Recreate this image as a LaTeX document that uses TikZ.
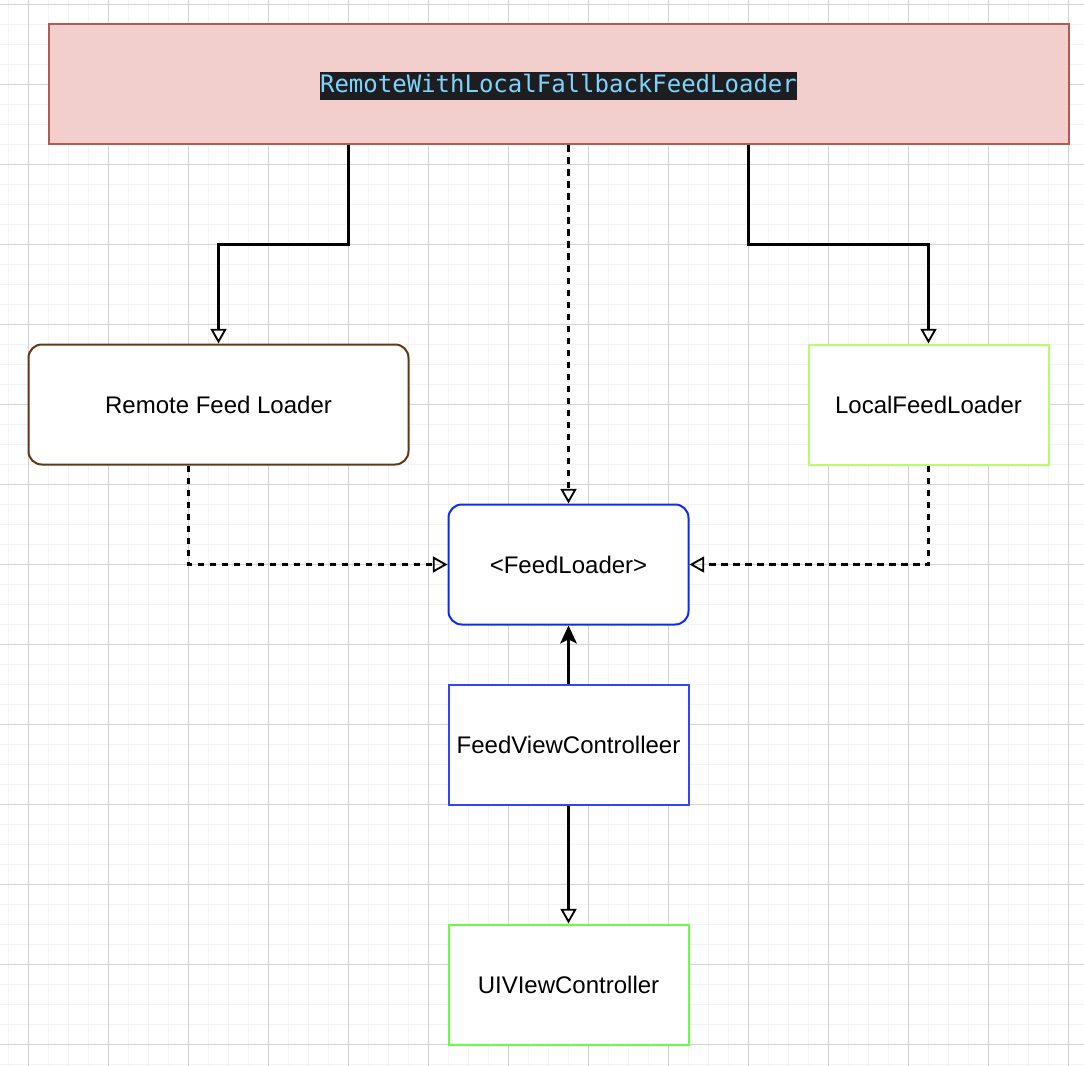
\documentclass[tikz,border=0pt]{standalone}
\usepackage{fontspec}
\setmainfont{Liberation Sans}
\newfontfamily\codefont{DejaVu Sans Mono}
\usetikzlibrary{arrows.meta}
\definecolor{gridminor}{HTML}{F3F3F3}
\definecolor{gridmajor}{HTML}{D2D2D2}
\definecolor{topfill}{HTML}{F2CFCC}
\definecolor{topline}{HTML}{B05A55}
\definecolor{remoteline}{HTML}{603813}
\definecolor{localline}{HTML}{B3FF66}
\definecolor{flline}{HTML}{0D2BF0}
\definecolor{fvcline}{HTML}{3344FF}
\definecolor{uiline}{HTML}{66FF44}
\definecolor{codebg}{HTML}{1E1E22}
\definecolor{codefg}{HTML}{7FD4FA}
\tikzset{
  box/.style={draw, line width=1.5pt, fill=white, minimum width=240*0.75pt, minimum height=120*0.75pt, inner sep=0pt, font=\fontsize{18}{21}\selectfont, text=black},
  rbox/.style={box, rounded corners=10pt},
  conn/.style={line width=1.6pt, draw=black},
  dconn/.style={conn, dash pattern=on 4.8pt off 4.2pt},
  opentip/.style={-{Triangle[open, length=11pt, width=12pt, line width=1.4pt]}},
  filltip/.style={-{Stealth[length=13.5pt, width=12.5pt, inset=3pt]}},
}
\begin{document}
\begin{tikzpicture}[x=0.75pt, y=-0.75pt]
\useasboundingbox (0,0) rectangle (1084,1066);
\fill[white] (0,0) rectangle (1084,1066);
% grid
\foreach \i in {0,...,53} {\draw[gridminor, line width=0.75pt] (8.5+20*\i,0) -- (8.5+20*\i,1066);}
\foreach \j in {0,...,53} {\draw[gridminor, line width=0.75pt] (0,4.5+20*\j) -- (1084,4.5+20*\j);}
\foreach \i in {0,...,13} {\draw[gridmajor, line width=0.75pt] (28.5+80*\i,0) -- (28.5+80*\i,1066);}
\foreach \j in {0,...,13} {\draw[gridmajor, line width=0.75pt] (0,4.5+80*\j) -- (1084,4.5+80*\j);}
% nodes
\node[box, draw=topline, fill=topfill, minimum width=1020*0.75pt] (top) at (558.5,84.5)
  {\raisebox{-1.1pt}[15.75pt][5.25pt]{\setlength\fboxsep{0pt}\colorbox{codebg}{\rule[-5.25pt]{0pt}{21pt}\codefont\color{codefg}RemoteWithLocalFallbackFeedLoader}}};
\node[rbox, draw=remoteline, minimum width=380*0.75pt] (remote) at (218.5,404.5) {Remote Feed Loader};
\node[box, draw=localline] (local) at (928.5,404.5) {LocalFeedLoader};
\node[rbox, draw=flline] (fl) at (568.5,564.5) {<FeedLoader>};
\node[box, draw=fvcline] (fvc) at (568.5,744.5) {FeedViewControlleer};
\node[box, draw=uiline] (ui) at (568.5,984.5) {UIVIewController};
% bend points
\coordinate (a1) at (348.5,244.5);
\coordinate (a2) at (748.5,244.5);
\coordinate (b1) at (188.5,564.5);
% connectors
\draw[conn, opentip] (top.south -| a1) -- (a1) -| (remote.north);
\draw[conn, opentip] (top.south -| a2) -- (a2) -| (local.north);
\draw[dconn, opentip] (top.south -| fl.north) -- (fl.north);
\draw[dconn, opentip] (remote.south -| b1) |- (fl.west);
\draw[dconn, opentip] (local.south) |- (fl.east);
\draw[conn, filltip] (fvc.north) -- (fl.south);
\draw[conn, opentip] (fvc.south) -- (ui.north);
\end{tikzpicture}
\end{document}
